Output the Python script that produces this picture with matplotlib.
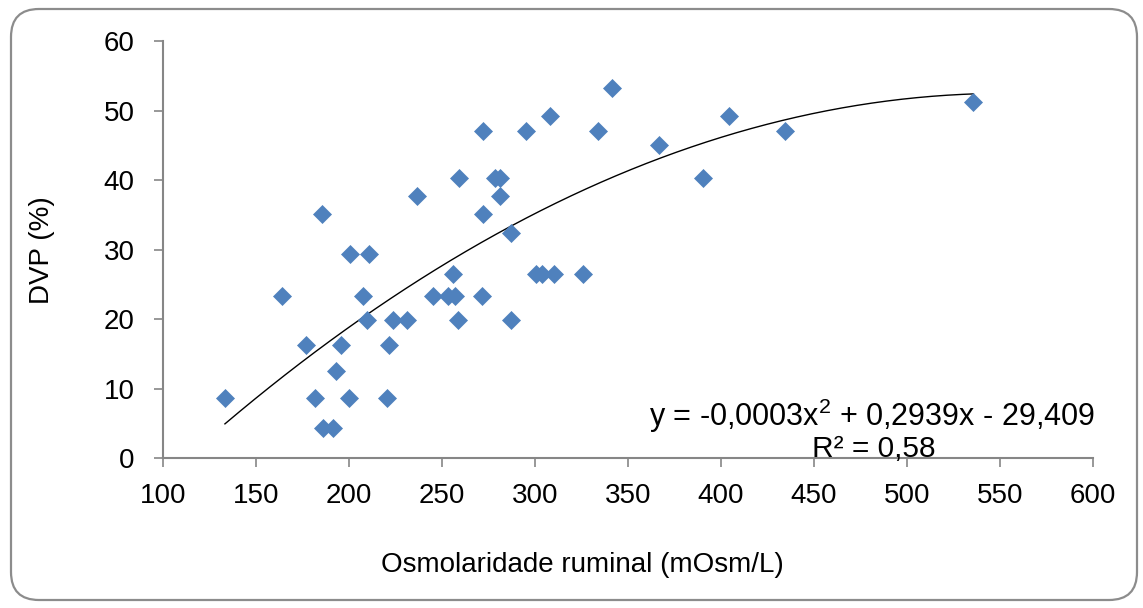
import numpy as np
import matplotlib
matplotlib.use('Agg')
import matplotlib.pyplot as plt
from matplotlib.patches import FancyBboxPatch
from matplotlib.transforms import IdentityTransform

# ---------- data: osmolaridade x DVP ----------
osmol = [133.3, 164.1, 176.7, 181.9, 185.6, 186.2, 191.6, 193.0, 195.9, 199.8,
         200.5, 207.7, 209.7, 210.8, 220.6, 221.5, 223.8, 231.0, 236.4, 245.3,
         253.4, 257.0, 256.1, 258.4, 259.3, 271.3, 272.2, 272.2, 278.5, 281.2,
         281.2, 287.1, 287.1, 295.2, 300.5, 304.0, 308.1, 310.2, 326.0, 333.9,
         341.6, 366.7, 390.5, 404.5, 434.4, 535.7]
dvp = [8.7, 23.3, 16.3, 8.7, 35.1, 4.4, 4.4, 12.6, 16.3, 8.7,
       29.4, 23.3, 19.9, 29.4, 8.7, 16.3, 19.9, 19.9, 37.7, 23.3,
       23.3, 23.3, 26.5, 19.9, 40.3, 23.3, 35.1, 47.1, 40.3, 40.3,
       37.7, 32.4, 19.9, 47.1, 26.5, 26.5, 49.2, 26.5, 26.5, 47.1,
       53.2, 45.0, 40.3, 49.2, 47.1, 51.2]
x_ticks = [100, 150, 200, 250, 300, 350, 400, 450, 500, 550, 600]
y_ticks = [0, 10, 20, 30, 40, 50, 60]
eq_text = 'y = -0,0003x$^2$ + 0,2939x - 29,409'
r2_text = 'R² = 0,58'

plt.rcParams['font.family'] = ['Liberation Sans', 'DejaVu Sans']
plt.rcParams['mathtext.fontset'] = 'custom'
plt.rcParams['mathtext.rm'] = 'Liberation Sans'
plt.rcParams['mathtext.it'] = 'Liberation Sans'

BLUE = '#4F81BD'
GREY = '#868686'
FS = 20

fig = plt.figure(figsize=(11.43, 6.08), dpi=100)
ax = fig.add_axes([0.1426, 0.2459, 0.8137, 0.6867])

ax.plot(osmol, dvp, linestyle='none', marker='D', ms=9.6,
        color=BLUE, mec=BLUE, mew=0.5, zorder=3)

# trendline polinomial de 2a ordem
coef = np.polyfit(osmol, dvp, 2)
xs = np.linspace(min(osmol), max(osmol), 200)
ax.plot(xs, np.polyval(coef, xs), color='black', lw=1.0, zorder=2)

ax.text(481, 4.7, eq_text, ha='center', va='baseline', fontsize=22)
ax.text(482, 0.2, r2_text, ha='center', va='baseline', fontsize=21.5)

ax.set_xlim(100, 600)
ax.set_ylim(0, 60)
ax.set_xticks(x_ticks)
ax.set_yticks(y_ticks)
for s in ['top', 'right']:
    ax.spines[s].set_visible(False)
for s in ['left', 'bottom']:
    ax.spines[s].set_color(GREY)
    ax.spines[s].set_linewidth(1.5)
ax.tick_params(axis='both', direction='out', length=6.5, width=1.2,
               color=GREY, labelsize=FS)
ax.tick_params(axis='y', pad=14)
ax.tick_params(axis='x', pad=11)

ax.set_xlabel('Osmolaridade ruminal (mOsm/L)', fontsize=FS)
ax.set_ylabel('DVP (%)', fontsize=FS)
ax.xaxis.set_label_coords(0.4505, -0.255)
ax.xaxis.label.set_va('center')
ax.yaxis.set_label_coords(-0.13, 0.5)
ax.yaxis.label.set_va('center')
ax.yaxis.label.set_ha('center')

# moldura arredondada da área do gráfico (em pixels)
frame = FancyBboxPatch((11, 8), 1126, 591, boxstyle='round,pad=0,rounding_size=28',
                       transform=IdentityTransform(), fill=False,
                       edgecolor='#8c8c8c', lw=1.6)
fig.patches.append(frame)

fig.savefig('out.png', dpi=100)
plt.close(fig)
